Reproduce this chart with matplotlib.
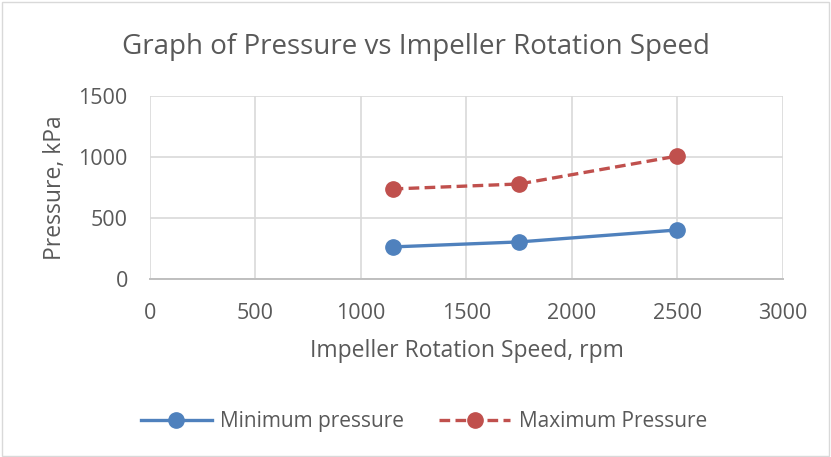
import matplotlib.pyplot as plt

speed = [1150, 1750, 2500]
min_pressure = [263, 304, 402]
max_pressure = [738, 779, 1008]

plt.rcParams['font.family'] = ['Open Sans', 'DejaVu Sans']
txt = '#595959'

fig = plt.figure(figsize=(8.31, 4.57), dpi=100)
ax = fig.add_axes([0.1805, 0.3895, 0.7617, 0.4004])

ax.plot(speed, min_pressure, color='#4F81BD', lw=2.4, marker='o', ms=11,
        label='Minimum pressure')
ax.plot(speed, max_pressure, color='#C0504D', lw=2.4, ls=(0, (3.2, 1.6)), marker='o', ms=11,
        label='Maximum Pressure')

ax.set_xlim(0, 3000)
ax.set_ylim(0, 1500)
ax.set_xticks(range(0, 3001, 500))
ax.set_yticks(range(0, 1501, 500))
ax.grid(True, color='#D9D9D9', lw=1.2)
ax.set_axisbelow(True)
for s in ['top', 'right', 'left']:
    ax.spines[s].set_visible(False)
ax.spines['bottom'].set_color('#BFBFBF')
ax.spines['bottom'].set_linewidth(1.4)
ax.tick_params(length=0, labelsize=15.5, colors=txt)
ax.tick_params(axis='x', pad=17)
ax.tick_params(axis='y', pad=16)

ax.set_xlabel('Impeller Rotation Speed, rpm', fontsize=16.5, color=txt, labelpad=11)
ax.set_ylabel('Pressure, kPa', fontsize=16.5, color=txt, labelpad=8)
fig.text(0.5, 0.897, 'Graph of Pressure vs Impeller Rotation Speed', ha='center', va='center',
         fontsize=20, color=txt)

leg = fig.legend(loc='center', bbox_to_anchor=(0.51, 0.077), ncol=2, frameon=False,
                 fontsize=15, handlelength=3.4, handletextpad=0.4, columnspacing=1.7,
                 labelcolor=txt)

fig.patches.append(plt.Rectangle((0.002, 0.002), 0.996, 0.994, transform=fig.transFigure,
                                 fill=False, edgecolor='#D9D9D9', lw=1))

fig.savefig('out.png', dpi=100)
